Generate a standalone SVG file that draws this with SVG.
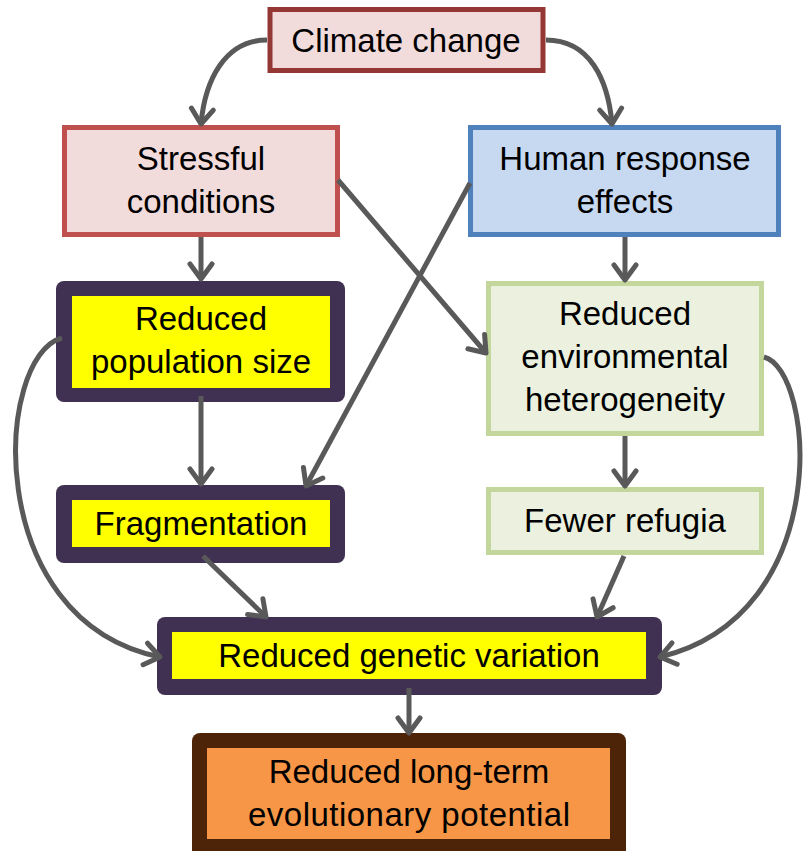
<svg xmlns="http://www.w3.org/2000/svg" width="805" height="851" viewBox="0 0 805 851">
<defs>
<style>
text{font-family:"Liberation Sans",Arial,sans-serif;font-size:33px;fill:#000;text-anchor:middle}
.c{fill:none;stroke:#595959;stroke-width:5;marker-end:url(#ah)}
.dark{fill:#403152}
.yel{fill:#FFFF00}
</style>
<marker id="ah" viewBox="-20 -15 25 30" refX="0" refY="0" markerWidth="25" markerHeight="30" markerUnits="userSpaceOnUse" orient="auto" overflow="visible">
<path d="M-15,-11 L0,0 L-15,11" fill="none" stroke="#595959" stroke-width="5" stroke-linecap="round" stroke-linejoin="round"/>
</marker>
</defs>
<rect width="805" height="851" fill="#fff"/>
<g id="climate">
<rect x="270" y="9.5" width="273" height="61" fill="#F2DCDB" stroke="#953735" stroke-width="5"/>
<text x="406" y="52">Climate change</text>
</g>
<g id="stressful">
<rect x="64.5" y="127.5" width="273" height="107" fill="#F2DCDB" stroke="#C0504D" stroke-width="5"/>
<text x="201" y="170">Stressful</text>
<text x="201" y="213">conditions</text>
</g>
<g id="human">
<rect x="470.5" y="127.5" width="308" height="107" fill="#C6D9F1" stroke="#4F81BD" stroke-width="5"/>
<text x="625" y="170">Human response</text>
<text x="625" y="213">effects</text>
</g>
<g id="popsize">
<rect class="dark" x="56" y="281" width="289" height="121" rx="8"/>
<rect class="yel" x="72" y="296" width="258" height="92"/>
<text x="201" y="330">Reduced</text>
<text x="201" y="373">population size</text>
</g>
<g id="envhet">
<rect x="488.5" y="283.5" width="273" height="150" fill="#EBF1DE" stroke="#C3D69B" stroke-width="5"/>
<text x="625" y="325">Reduced</text>
<text x="625" y="368">environmental</text>
<text x="625" y="411">heterogeneity</text>
</g>
<g id="fragmentation">
<rect class="dark" x="56" y="485" width="289" height="78" rx="8"/>
<rect class="yel" x="72" y="500" width="258" height="47"/>
<text x="201" y="535">Fragmentation</text>
</g>
<g id="refugia">
<rect x="488.5" y="489.5" width="273" height="63" fill="#EBF1DE" stroke="#C3D69B" stroke-width="5"/>
<text x="625" y="532">Fewer refugia</text>
</g>
<g id="genetic">
<rect class="dark" x="157" y="617" width="505" height="78" rx="8"/>
<rect class="yel" x="172" y="632" width="474" height="47"/>
<text x="409" y="667">Reduced genetic variation</text>
</g>
<g id="evolution">
<rect x="192" y="733" width="434" height="128" rx="8" fill="#4D2407"/>
<rect x="207" y="748" width="403" height="91" fill="#F79646"/>
<text x="409" y="783">Reduced long-term</text>
<text x="409" y="826" textLength="322" lengthAdjust="spacing">evolutionary potential</text>
</g>
<g id="connectors">
<path class="c" d="M267,40 C225,40 205,80 201,124"/>
<path class="c" d="M546,40 C590,40 608,80 612,124"/>
<path class="c" d="M201,237 L201,279"/>
<path class="c" d="M625,237 L625,280"/>
<path class="c" d="M338,180 L486,353"/>
<path class="c" d="M470,183 L306,486"/>
<path class="c" d="M201,396 L201,484"/>
<path class="c" d="M625,436 L625,486"/>
<path class="c" d="M203,556 L266,617"/>
<path class="c" d="M624,556 L597,617"/>
<path class="c" d="M62,338 C-5,355 -20,620 160,657"/>
<path class="c" d="M764,357 C815,370 835,615 660,657"/>
<path class="c" d="M409,688 L409,733"/>
</g>
</svg>
